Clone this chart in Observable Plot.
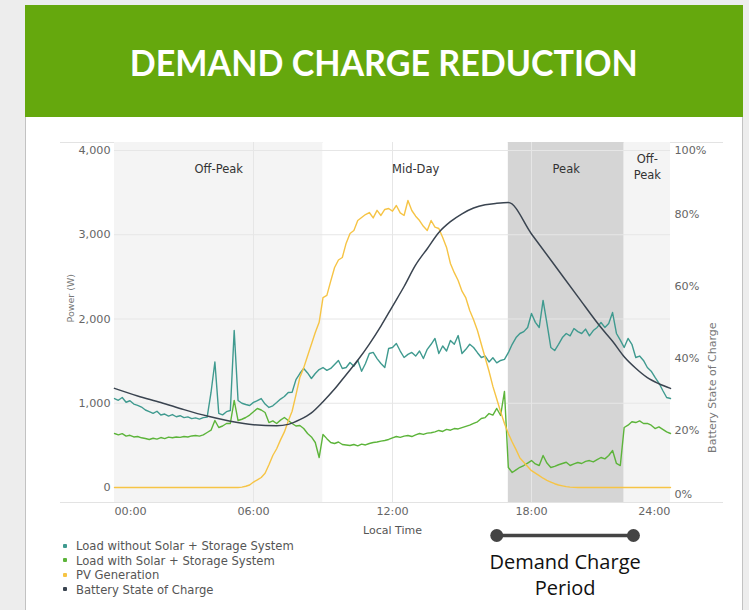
<!DOCTYPE html>
<html><head><meta charset="utf-8">
<script src="https://cdn.jsdelivr.net/npm/d3@7"></script>
<script src="https://cdn.jsdelivr.net/npm/@observablehq/plot@0.6"></script>
<style>
html,body{margin:0;padding:0}
body{width:749px;height:610px;overflow:hidden;background:#ededed;font-family:"DejaVu Sans",sans-serif;position:relative}
#card{position:absolute;left:25px;top:5px;width:718px;height:620px;background:#fff;border:1px solid #c2c2c2;box-sizing:border-box}
#header{position:absolute;left:25px;top:5px;width:718px;height:112px;background:#65a80d;display:flex;align-items:center;justify-content:center;overflow:hidden}
#title{color:#fff;font-family:Lato,"Open Sans",sans-serif;font-weight:bold;font-size:37px;white-space:nowrap;display:inline-block;transform-origin:center}
.hl{position:absolute;left:60px;width:663px;height:1px;background:#e3e3e3}
#chart{position:absolute;left:0;top:0}
#legend{position:absolute;left:63px;top:539px;font-size:11.6px;color:#555;line-height:14.6px}
#legend .dot{display:inline-block;width:4px;height:4px;border-radius:1px;margin-right:9px;vertical-align:middle;position:relative;top:-1px}
</style></head>
<body>
<div id="card"></div>
<div id="header"><span id="title">DEMAND CHARGE REDUCTION</span></div>
<div class="hl" style="top:142px"></div>
<div class="hl" style="top:502px"></div>
<div id="chart"></div>
<div id="legend"></div>
<script>
// ---- data (10-minute samples, 00:00 .. 24:00) ----
const loadWithout = [
 1056,1035,1068,1012,1030,990,
 975,955,920,900,880,905,
 860,872,848,866,840,852,
 830,838,818,826,812,830,
 835,1128,1490,880,862,900,
 914,1863,1033,1000,985,973,
 1010,1030,1056,990,950,970,
 1009,1050,1080,1128,1130,1280,
 1353,1413,1360,1294,1353,1400,
 1424,1390,1413,1460,1508,1413,
 1424,1484,1440,1510,1380,1472,
 1590,1603,1530,1472,1424,1650,
 1662,1709,1620,1543,1580,1603,
 1560,1620,1531,1640,1700,1769,
 1590,1680,1620,1745,1700,1804,
 1590,1640,1700,1662,1600,1543,
 1560,1490,1540,1480,1508,1520,
 1600,1700,1780,1828,1850,1899,
 2065,1960,1899,2220,1947,1662,
 1626,1700,1780,1828,1800,1887,
 1850,1828,1880,1800,1863,1900,
 1959,1900,1947,2077,1828,1750,
 1662,1769,1700,1543,1560,1508,
 1424,1380,1306,1240,1151,1068,
 1056];
const loadWith = [
 641,625,640,610,620,600,
 605,590,582,570,585,575,
 593,580,598,590,600,595,
 605,600,612,617,610,625,
 653,680,795,712,730,760,
 760,1033,795,810,831,860,
 900,938,920,890,771,790,
 760,800,831,795,760,730,
 736,700,641,600,534,356,
 630,580,534,522,540,510,
 505,498,510,495,515,505,
 522,534,540,550,558,570,
 590,605,595,610,617,605,
 625,641,630,645,650,660,
 677,665,690,680,700,695,
 710,725,740,760,780,819,
 830,878,860,938,855,1140,
 237,178,210,240,261,290,
 320,280,261,380,290,237,
 250,270,285,300,261,280,
 297,285,310,320,305,330,
 356,340,380,439,285,261,
 712,740,780,771,790,760,
 760,740,700,720,690,660,
 641];
const pvGeneration = [
 0,0,0,0,0,0, 0,0,0,0,0,0, 0,0,0,0,0,0, 0,0,0,0,0,0, 0,0,0,0,0,0,
 0,0,0,5,15,30,
 65,90,119,170,270,380,
 460,565,660,790,905,1100,
 1306,1420,1560,1700,1840,1960,
 2255,2280,2450,2611,2700,2730,
 2900,3015,3050,3169,3205,3240,
 3264,3200,3290,3229,3300,3312,
 3280,3347,3260,3229,3407,3288,
 3220,3169,3100,3050,3169,3090,
 3074,2968,2850,2659,2550,2457,
 2330,2250,2101,1990,1863,1700,
 1540,1380,1200,1050,900,760,
 640,540,450,350,300,250,
 200,170,140,110,85,65,
 45,30,20,10,5,2,
 0,0,0,0,0,0, 0,0,0,0,0,0, 0,0,0,0,0,0, 0,0,0,0,0,0,
 0];
const socHours = [0,1,2,3,4,5,6,7,7.5,8,8.5,9,9.5,10,10.5,11,11.5,12,12.5,13,13.5,14,14.5,15,15.5,16,16.5,17,18,19,20,21,21.5,22,22.5,23,23.5,24];
const socPct   = [31.7,29.6,27.8,25.8,24,22.6,21.6,21.3,21.7,23,24.9,28,31.5,35.5,39.5,44,49,54.5,60,66,70.5,75,78,80.2,81.8,82.7,83.1,83.3,74.6,65.9,57.2,48.6,44.8,40.5,37.3,34.7,33,31.7];

const periodNames  = ["Off-Peak","Mid-Day","Peak","Off-\nPeak"];
const periodStart  = [0,9,17,22];
const periodEnd    = [9,17,22,24];
const periodShade  = ["#f4f4f4","#ffffff","#d5d5d5","#f4f4f4"];

const powerTicks = [0,1000,2000,3000,4000];
const socTicks   = [0,20,40,60,80,100];
const timeTicks  = [0,6,12,18,24];
const demandPeriod = [16.5,22.4];

const seriesNames  = ["Load without Solar + Storage System","Load with Solar + Storage System","PV Generation","Battery State of Charge"];
const seriesColors = ["#3f9a8f","#5cb43a","#f6c445","#3a4450"];

// ---- scales ----
const yMin = -178, yMax = 4095;            // power axis extent
const socToY = s => yMin + (yMax - yMin) * s / 100;  // battery % mapped onto the power axis

const sampleHours = loadWithout.map((_, i) => i / 6);
const lw  = sampleHours.map((h, i) => ({h, v: loadWithout[i]}));
const lwi = sampleHours.map((h, i) => ({h, v: loadWith[i]}));
const pv  = sampleHours.map((h, i) => ({h, v: pvGeneration[i]}));
const soc = socHours.map((h, i) => ({h, v: socToY(socPct[i])}));
const periods = periodNames.map((n, i) => ({n, a: periodStart[i], b: periodEnd[i], c: periodShade[i]}));
const hhmm = d => String(d).padStart(2, "0") + ":00";
const font = "DejaVu Sans, sans-serif";
const tickFs = 11.2;

const chart = Plot.plot({
  width: 749, height: 610,
  marginLeft: 114, marginRight: 79, marginTop: 142, marginBottom: 108,
  style: {background: "transparent", fontFamily: font, overflow: "visible"},
  x: {domain: [0, 24], axis: null},
  y: {domain: [yMin, yMax], axis: null},
  marks: [
    Plot.rect(periods, {x1: "a", x2: "b", fill: "c"}),
    Plot.gridY(powerTicks.slice(1), {stroke: "#e6e6e6", strokeOpacity: 1}),
    Plot.gridX([6, 12, 18], {stroke: "#e6e6e6", strokeOpacity: 1}),
    Plot.text(periods.slice(0, 3), {x: d => (d.a + d.b) / 2, frameAnchor: "top", dy: 27, lineAnchor: "middle", text: "n", fontSize: 11.5, fill: "#333"}),
    Plot.text(periods.slice(3), {x: d => (d.a + d.b) / 2, frameAnchor: "top", dy: 23, lineAnchor: "middle", lineHeight: 1.4, text: "n", fontSize: 11.5, fill: "#333"}),
    // left axis
    Plot.axisY(powerTicks, {anchor: "left", tickSize: 0, tickPadding: 4, tickFormat: d3.format(","), fontSize: tickFs, color: "#666", label: null}),
    Plot.text(["Power (W)"], {frameAnchor: "left", dx: -44, rotate: -90, fontSize: 9.5, fill: "#777"}),
    // right axis
    Plot.text(socTicks.slice(1, 5), {y: d => socToY(d), frameAnchor: "right", dx: 4, textAnchor: "start", text: d => d + "%", fontSize: tickFs, fill: "#666"}),
    Plot.text([0], {y: d => socToY(d), frameAnchor: "right", dx: 4, dy: -8, textAnchor: "start", text: d => d + "%", fontSize: tickFs, fill: "#666"}),
    Plot.text([100], {y: d => socToY(d), frameAnchor: "right", dx: 4, dy: 8, textAnchor: "start", text: d => d + "%", fontSize: tickFs, fill: "#666"}),
    Plot.text(["Battery State of Charge"], {frameAnchor: "right", dx: 42, rotate: -90, fontSize: 11, fill: "#777"}),
    // x axis
    Plot.axisX(timeTicks.slice(1, 4), {anchor: "bottom", tickSize: 0, tickPadding: 5, tickFormat: hhmm, fontSize: tickFs, color: "#666", label: null}),
    Plot.axisX([0], {anchor: "bottom", tickSize: 0, tickPadding: 5, tickFormat: hhmm, textAnchor: "start", fontSize: tickFs, color: "#666", label: null}),
    Plot.axisX([24], {anchor: "bottom", tickSize: 0, tickPadding: 5, tickFormat: hhmm, textAnchor: "end", fontSize: tickFs, color: "#666", label: null}),
    Plot.text(["Local Time"], {x: 12, frameAnchor: "bottom", dy: 28, lineAnchor: "middle", fontSize: 11, fill: "#555"}),
    // series
    Plot.line(lw,  {x: "h", y: "v", stroke: seriesColors[0], strokeWidth: 1.4}),
    Plot.line(lwi, {x: "h", y: "v", stroke: seriesColors[1], strokeWidth: 1.4}),
    Plot.line(pv,  {x: "h", y: "v", stroke: seriesColors[2], strokeWidth: 1.4}),
    Plot.line(soc, {x: "h", y: "v", stroke: seriesColors[3], strokeWidth: 1.5, curve: "monotone-x"}),
    // demand charge period annotation
    Plot.line(demandPeriod.map(h => ({h})), {x: "h", y: () => yMin, dy: 33, stroke: "#444", strokeWidth: 3.5}),
    Plot.dot(demandPeriod.map(h => ({h})), {x: "h", y: () => yMin, dy: 33, r: 6.5, fill: "#444"}),
    Plot.text(["Demand Charge\nPeriod"], {x: d3.mean(demandPeriod), y: () => yMin, dy: 71, lineAnchor: "middle", lineHeight: 1.3, fontSize: 20, fontFamily: "Open Sans, sans-serif", fill: "#111"})
  ]
});
document.getElementById("chart").appendChild(chart);

// legend
const leg = document.getElementById("legend");
seriesNames.forEach((n, i) => {
  const row = document.createElement("div");
  row.innerHTML = `<span class="dot" style="background:${seriesColors[i]}"></span>${n}`;
  leg.appendChild(row);
});

// fit title width
const t = document.getElementById("title");
const w = t.getBoundingClientRect().width;
t.style.transform = `scaleX(${508 / w})`;
</script>
</body></html>
